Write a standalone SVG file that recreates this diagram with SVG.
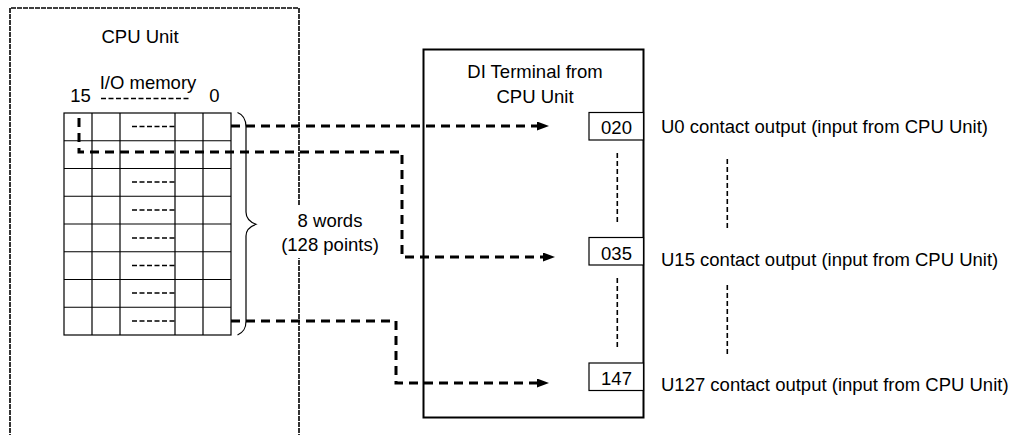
<svg xmlns="http://www.w3.org/2000/svg" width="1010" height="435" viewBox="0 0 1010 435">
<style>
text{font-family:"Liberation Sans",Arial,sans-serif;font-size:18.5px;fill:#000}
.c{text-anchor:middle}
.grid{stroke:#000;stroke-width:1.2;fill:none}
.thin{stroke:#000;stroke-width:1.3;stroke-dasharray:5,2.5;fill:none}
.conn{stroke:#000;stroke-width:3;stroke-dasharray:9,6;fill:none}
.vd{stroke:#000;stroke-width:1.6;stroke-dasharray:5,3;fill:none}
</style>
<defs>
<marker id="ah" markerUnits="userSpaceOnUse" markerWidth="13" markerHeight="10" refX="0" refY="4.5" orient="auto">
<path d="M0,0 L12,4.5 L0,9 z" fill="#000"/>
</marker>
</defs>
<rect width="1010" height="435" fill="#fff"/>
<g id="cpu-unit">
<path d="M10,445 V8 H299 V445" fill="none" stroke="#000" stroke-width="1.6" stroke-dasharray="5,1"/>
<rect x="282" y="205" width="96" height="53" fill="#fff"/>
<text class="c" x="140" y="43">CPU Unit</text>
<text class="c" x="148" y="89">I/O memory</text>
<text class="c" x="80.5" y="102">15</text>
<text class="c" x="214.5" y="102">0</text>
<line class="thin" x1="101" y1="98.5" x2="190" y2="98.5" stroke-dasharray="5,3"/>
<text class="c" x="330" y="227">8 words</text>
<text class="c" x="330" y="251">(128 points)</text>
</g>
<g id="io-memory">
<rect class="grid" x="64" y="113" width="167" height="222"/>
<path class="grid" d="M92,113V335M120,113V335M175,113V335M203,113V335M64,140.75H231M64,168.5H231M64,196.25H231M64,224H231M64,251.75H231M64,279.5H231M64,307.25H231"/>
<path class="thin" d="M132,126.5H176M132,182H176M132,210H176M132,238H176M132,265.5H176M132,293H176M132,321H176"/>
<path d="M237.5,112.5 C244,115 246,120 246,127 V212 C246,218 250,222 256,224.3 C250,226.5 246,230 246,236 V321 C246,328 244,332 237.5,335" fill="none" stroke="#000" stroke-width="1.2"/>
</g>
<g id="di-terminal">
<rect x="423.5" y="49.5" width="220" height="368" fill="none" stroke="#000" stroke-width="2"/>
<text class="c" x="535" y="78">DI Terminal from</text>
<text class="c" x="535" y="103">CPU Unit</text>
</g>
<g id="word-020">
<rect x="589" y="112.5" width="54.5" height="27.5" fill="#fff" stroke="#000" stroke-width="1.2"/>
<text class="c" x="616.5" y="133.5">020</text>
<text x="661" y="133">U0 contact output (input from CPU Unit)</text>
</g>
<g id="word-035">
<rect x="589" y="237.5" width="54.5" height="27.5" fill="#fff" stroke="#000" stroke-width="1.2"/>
<text class="c" x="616.5" y="259.5">035</text>
<text x="661" y="266">U15 contact output (input from CPU Unit)</text>
</g>
<g id="word-147">
<rect x="589" y="363" width="54.5" height="27.5" fill="#fff" stroke="#000" stroke-width="1.2"/>
<text class="c" x="616.5" y="385">147</text>
<text x="661" y="391">U127 contact output (input from CPU Unit)</text>
</g>
<g id="ellipses">
<path class="vd" d="M617.3,153V224M617.3,278V349M727.3,159V230M727.3,285V356"/>
</g>
<g id="connectors">
<path class="conn" d="M231,126 H537" marker-end="url(#ah)"/>
<path class="conn" d="M79,118 V152 H402 V257 H543" marker-end="url(#ah)"/>
<path class="conn" d="M231,321 H396 V383 H537" marker-end="url(#ah)"/>
</g>
</svg>
